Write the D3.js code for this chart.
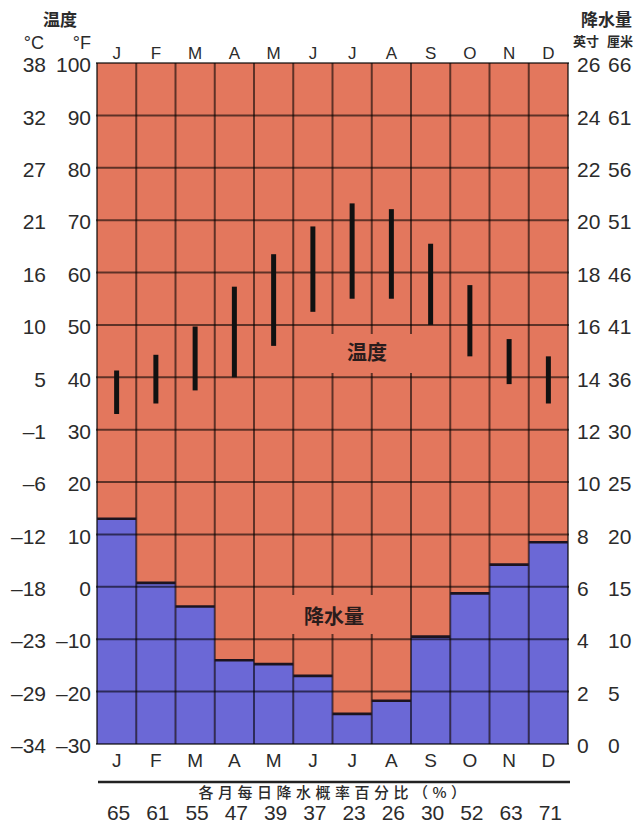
<!DOCTYPE html>
<html>
<head>
<meta charset="utf-8">
<script src="https://cdn.jsdelivr.net/npm/d3@7/dist/d3.min.js"></script>
<style>
  html, body { margin: 0; padding: 0; background: #fff; }
  svg { display: block; }
  text { font-family: "Liberation Sans", Arial, "Noto Sans CJK SC", sans-serif; fill: #2b2b2b; }
  .cjk { font-family: "Noto Sans CJK SC", sans-serif; }
</style>
</head>
<body>
<script>
// Monthly climate data
const months = ["J", "F", "M", "A", "M", "J", "J", "A", "S", "O", "N", "D"];
const tempLowF  = [33, 35, 37.5, 40, 46, 52.5, 55, 55, 50, 44, 38.7, 35];
const tempHighF = [41.3, 44.3, 49.7, 57.3, 63.5, 68.8, 73.2, 72.1, 65.5, 57.6, 47.3, 44];
const precipIn  = [8.6, 6.15, 5.25, 3.2, 3.05, 2.6, 1.15, 1.65, 4.1, 5.75, 6.85, 7.7];
const rainChance = [65, 61, 55, 47, 39, 37, 23, 26, 30, 52, 63, 71];

// Axis tick values and paired labels
const fTicks   = [100, 90, 80, 70, 60, 50, 40, 30, 20, 10, 0, -10, -20, -30];
const cLabels  = ["38", "32", "27", "21", "16", "10", "5", "–1", "–6", "–12", "–18", "–23", "–29", "–34"];
const inTicks  = [26, 24, 22, 20, 18, 16, 14, 12, 10, 8, 6, 4, 2, 0];
const cmLabels = ["66", "61", "56", "51", "46", "41", "36", "30", "25", "20", "15", "10", "5", "0"];

const W = 636, H = 830;
const plotL = 97, plotR = 568, plotT = 63, plotB = 744;
const ORANGE = "#e3775d", BLUE = "#6b68d6";

const svg = d3.select("body").append("svg").attr("width", W).attr("height", H);

const x = d3.scaleBand().domain(d3.range(12)).range([plotL, plotR]).padding(0);
const yF = d3.scaleLinear().domain([-30, 100]).range([plotB, plotT]);
const yIn = d3.scaleLinear().domain([0, 26]).range([plotB, plotT]);

// Plot background
svg.append("rect").attr("x", plotL).attr("y", plotT)
  .attr("width", plotR - plotL).attr("height", plotB - plotT).attr("fill", ORANGE);

// Precipitation columns
svg.append("g").selectAll("rect").data(precipIn).join("rect")
  .attr("x", (d, i) => x(i)).attr("width", x.bandwidth())
  .attr("y", d => yIn(d)).attr("height", d => yIn(0) - yIn(d))
  .attr("fill", BLUE);

// Vertical grid lines at month boundaries
const vEdges = d3.range(13).map(i => i < 12 ? x(i) : plotR);
svg.append("g").selectAll("line").data(vEdges).join("line")
  .attr("x1", d => d).attr("x2", d => d).attr("y1", plotT).attr("y2", plotB)
  .attr("stroke", "#000").attr("stroke-opacity", 0.58).attr("stroke-width", 2);

// Clear space behind the in-plot labels
const boxes = [
  { x0: 328, x1: 415, y0: 334, y1: 373 },
  { x0: 289, x1: 376, y0: 595, y1: 634 }
];
svg.append("g").selectAll("rect").data(boxes).join("rect")
  .attr("x", d => d.x0).attr("y", d => d.y0)
  .attr("width", d => d.x1 - d.x0).attr("height", d => d.y1 - d.y0)
  .attr("fill", ORANGE);

// Horizontal grid lines
svg.append("g").selectAll("line").data(fTicks).join("line")
  .attr("x1", plotL - 1).attr("x2", plotR + 1)
  .attr("y1", d => yF(d)).attr("y2", d => yF(d))
  .attr("stroke", "#000").attr("stroke-opacity", 0.58).attr("stroke-width", 2);

// Top edge of each precipitation column
svg.append("g").selectAll("line").data(precipIn).join("line")
  .attr("x1", (d, i) => x(i)).attr("x2", (d, i) => x(i) + x.bandwidth())
  .attr("y1", d => yIn(d)).attr("y2", d => yIn(d))
  .attr("stroke", "#1c1420").attr("stroke-width", 2.6);

// Temperature range bars
svg.append("g").selectAll("line").data(months).join("line")
  .attr("x1", (d, i) => x(i) + x.bandwidth() / 2)
  .attr("x2", (d, i) => x(i) + x.bandwidth() / 2)
  .attr("y1", (d, i) => yF(tempHighF[i])).attr("y2", (d, i) => yF(tempLowF[i]))
  .attr("stroke", "#111").attr("stroke-width", 5);

// In-plot labels
svg.append("text").attr("class", "cjk").attr("x", 367).attr("y", 360)
  .attr("text-anchor", "middle").attr("font-size", 20).attr("font-weight", 700)
  .style("fill", "#2a1c1c").text("温度");
svg.append("text").attr("class", "cjk").attr("x", 334).attr("y", 624)
  .attr("text-anchor", "middle").attr("font-size", 20).attr("font-weight", 700)
  .style("fill", "#2a1c1c").text("降水量");

// Axes
function styleAxis(g, size) {
  g.select(".domain").remove();
  g.selectAll(".tick line").remove();
  g.selectAll("text").attr("font-size", size)
    .attr("font-family", "'Liberation Sans', Arial, sans-serif").style("fill", "#2b2b2b");
}

const cAxis = d3.axisLeft(yF).tickValues(fTicks).tickSize(0).tickPadding(0)
  .tickFormat(d => cLabels[fTicks.indexOf(d)]);
svg.append("g").attr("transform", "translate(46,2)").call(cAxis).call(g => styleAxis(g, 21));

const fAxis = d3.axisLeft(yF).tickValues(fTicks).tickSize(0).tickPadding(0)
  .tickFormat(d => String(d).replace("-", "–"));
svg.append("g").attr("transform", "translate(91,2)").call(fAxis).call(g => styleAxis(g, 21));

const inAxis = d3.axisRight(yIn).tickValues(inTicks).tickSize(0).tickPadding(0);
svg.append("g").attr("transform", "translate(577,2)").call(inAxis).call(g => styleAxis(g, 21));

const cmAxis = d3.axisRight(yIn).tickValues(inTicks).tickSize(0).tickPadding(0)
  .tickFormat(d => cmLabels[inTicks.indexOf(d)]);
svg.append("g").attr("transform", "translate(608,2)").call(cmAxis).call(g => styleAxis(g, 21));

const topAxis = d3.axisTop(x).tickSize(0).tickPadding(4).tickFormat(i => months[i]);
svg.append("g").attr("transform", `translate(0,${plotT})`).call(topAxis).call(g => styleAxis(g, 17));

const bottomAxis = d3.axisBottom(x).tickSize(0).tickPadding(10).tickFormat(i => months[i]);
svg.append("g").attr("transform", `translate(0,${plotB})`).call(bottomAxis).call(g => styleAxis(g, 19));

// Axis headers
svg.append("text").attr("class", "cjk").attr("x", 60).attr("y", 26)
  .attr("text-anchor", "middle").attr("font-size", 17).attr("font-weight", 700).text("温度");
svg.append("text").attr("x", 44).attr("y", 49).attr("text-anchor", "end")
  .attr("font-size", 18).text("°C");
svg.append("text").attr("x", 91).attr("y", 49).attr("text-anchor", "end")
  .attr("font-size", 18).text("°F");
svg.append("text").attr("class", "cjk").attr("x", 632).attr("y", 26)
  .attr("text-anchor", "end").attr("font-size", 17).attr("font-weight", 700).text("降水量");
svg.append("text").attr("class", "cjk").attr("x", 586).attr("y", 46)
  .attr("text-anchor", "middle").attr("font-size", 13).attr("font-weight", 700).text("英寸");
svg.append("text").attr("class", "cjk").attr("x", 620).attr("y", 46)
  .attr("text-anchor", "middle").attr("font-size", 13).attr("font-weight", 700).text("厘米");

// Daily precipitation probability row
svg.append("line").attr("x1", plotL + 1).attr("x2", plotR + 2).attr("y1", 782).attr("y2", 782)
  .attr("stroke", "#222").attr("stroke-width", 2.5);
svg.append("text").attr("class", "cjk").attr("x", (plotL + plotR) / 2 + 2).attr("y", 798)
  .attr("text-anchor", "middle").attr("font-size", 15).attr("font-weight", 500)
  .attr("letter-spacing", 4.5).text("各月每日降水概率百分比（%）");
svg.append("g").selectAll("text").data(rainChance).join("text")
  .attr("x", (d, i) => x(i) + x.bandwidth() / 2 + 2).attr("y", 820)
  .attr("text-anchor", "middle").attr("font-size", 21).text(d => d);
</script>
</body>
</html>
